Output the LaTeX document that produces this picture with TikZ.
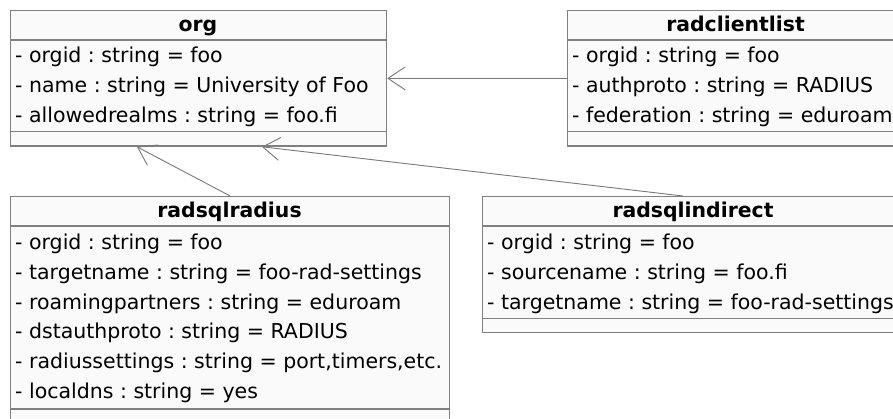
\documentclass[tikz,border=0pt]{standalone}
\usepackage{fontspec}
\setmainfont{DejaVu Sans}
\usetikzlibrary{arrows.meta,calc}
\definecolor{boxline}{RGB}{128,128,128}
\definecolor{boxfill}{RGB}{250,250,250}
\definecolor{linkcol}{RGB}{120,120,120}
\tikzset{
  classbox/.style={draw=boxline, fill=boxfill, line width=1.3pt, inner sep=0pt, anchor=north west},
  sepline/.style={draw=boxline, line width=1.3pt},
  ctitle/.style={font=\fontsize{20.4}{24}\selectfont\bfseries\frenchspacing, anchor=base, inner sep=0pt},
  cattr/.style={font=\fontsize{20.5}{24}\selectfont\frenchspacing, anchor=base west, inner sep=0pt},
  assoc/.style={draw=linkcol, line width=0.9pt, -{Straight Barb[length=17pt,width=23pt]}}
}
\begin{document}
\frenchspacing
\begin{tikzpicture}[x=1pt,y=-1pt]
\clip (0,0) rectangle (893,419);
\fill[white] (0,0) rectangle (893,419);

% ---- org ----
\node[classbox, minimum width=376pt, minimum height=135.5pt] (org) at (10,10) {};
\draw[sepline] ($(org.north west)+(0,30)$) -- ($(org.north east)+(0,30)$);
\draw[sepline] ($(org.north west)+(0,121.5)$) -- ($(org.north east)+(0,121.5)$);
\node[ctitle] (orgT) at (198,32) {org};
\node[cattr] (orgA1) at (15,62.5) {- orgid : string = foo};
\node[cattr] (orgA2) at (15,92.3) {- name : string = University of Foo};
\node[cattr] (orgA3) at (15,122.1) {- allowedrealms : string = foo.fi};

% ---- radclientlist ----
\node[classbox, minimum width=337pt, minimum height=135.5pt] (rcl) at (567,10) {};
\draw[sepline] ($(rcl.north west)+(0,30)$) -- ($(rcl.north east)+(0,30)$);
\draw[sepline] ($(rcl.north west)+(0,121.5)$) -- ($(rcl.north east)+(0,121.5)$);
\node[ctitle] (rclT) at (735.5,32) {radclientlist};
\node[cattr] (rclA1) at (572,62.5) {- orgid : string = foo};
\node[cattr] (rclA2) at (572,92.3) {- authproto : string = RADIUS};
\node[cattr] (rclA3) at (572,122.1) {- federation : string = eduroam};

% ---- radsqlradius ----
\node[classbox, minimum width=439pt, minimum height=227pt] (rsr) at (10,196) {};
\draw[sepline] ($(rsr.north west)+(0,30)$) -- ($(rsr.north east)+(0,30)$);
\draw[sepline] ($(rsr.north west)+(0,213)$) -- ($(rsr.north east)+(0,213)$);
\node[ctitle] (rsrT) at (229.5,218) {radsqlradius};
\node[cattr] (rsrA1) at (15,249.5) {- orgid : string = foo};
\node[cattr] (rsrA2) at (15,279.3) {- targetname : string = foo-rad-settings};
\node[cattr] (rsrA3) at (15,309.1) {- roamingpartners : string = eduroam};
\node[cattr] (rsrA4) at (15,338.9) {- dstauthproto : string = RADIUS};
\node[cattr] (rsrA5) at (15,368.7) {- radiussettings : string = port,timers,etc.};
\node[cattr] (rsrA6) at (15,398.5) {- localdns : string = yes};

% ---- radsqlindirect ----
\node[classbox, minimum width=422pt, minimum height=136pt] (rsi) at (482,196) {};
\draw[sepline] ($(rsi.north west)+(0,30)$) -- ($(rsi.north east)+(0,30)$);
\draw[sepline] ($(rsi.north west)+(0,122.5)$) -- ($(rsi.north east)+(0,122.5)$);
\node[ctitle] (rsiT) at (693,218) {radsqlindirect};
\node[cattr] (rsiA1) at (487,249.5) {- orgid : string = foo};
\node[cattr] (rsiA2) at (487,279.3) {- sourcename : string = foo.fi};
\node[cattr] (rsiA3) at (487,309.1) {- targetname : string = foo-rad-settings};

% ---- connectors ----
\coordinate (orgIn1) at ($(org.south west)+(127,0)$);
\coordinate (orgIn2) at ($(org.south west)+(252,0)$);
\coordinate (rsiOut) at ($(rsi.north west)+(201,0)$);
\draw[assoc] (rcl.west) -- (org.east);
\draw[assoc] (rsr.north) -- (orgIn1);
\draw[assoc] (rsiOut) -- (orgIn2);
\end{tikzpicture}
\end{document}
